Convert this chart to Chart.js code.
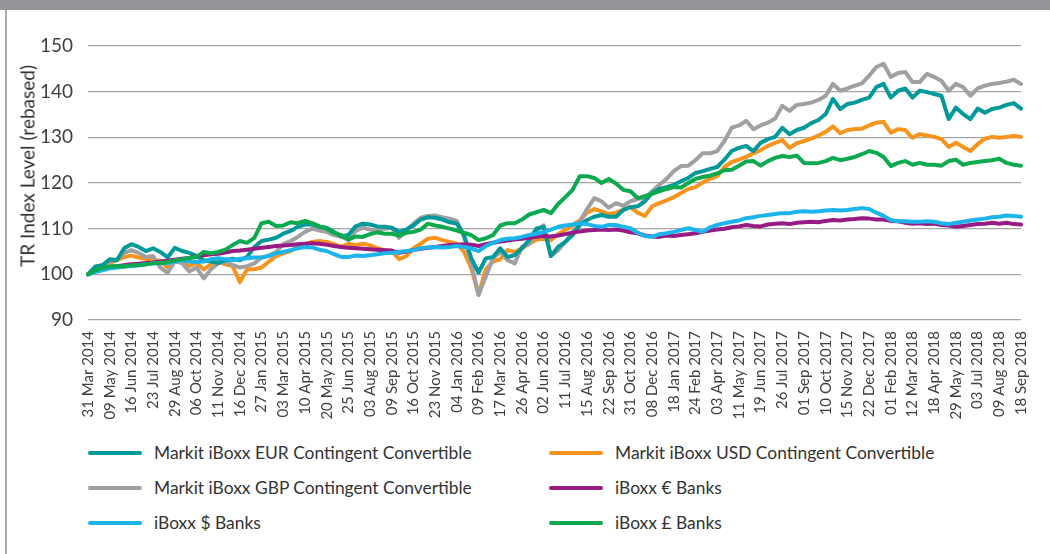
<!DOCTYPE html>
<html>
<head>
<meta charset="utf-8">
<script src="https://cdn.jsdelivr.net/npm/chart.js@4.4.1/dist/chart.umd.min.js"></script>
<style>
  html, body { margin: 0; padding: 0; background: #fff; }
  body { width: 1050px; height: 554px; position: relative; overflow: hidden; font-family: Lato, sans-serif; color: #333; }
  #bar { position: absolute; left: 0; top: 0; width: 1050px; height: 10px; background: #939598; }
  #rule { position: absolute; left: 5px; top: 10px; width: 2px; height: 544px; background: #a7a9ac; }
  #wrap { position: absolute; left: 0; top: 0; width: 1050px; height: 430px; }
  #ytitle { position: absolute; left: 27px; top: 166px; transform: translate(-50%, -50%) rotate(-90deg);
            white-space: nowrap; font-size: 19px; color: #333; }
  #legend { position: absolute; left: 88px; top: 435px; display: grid; grid-template-columns: 461px 420px; }
  .item { display: flex; align-items: center; height: 35px; font-size: 17.4px; color: #333; white-space: nowrap; }
  .swatch { width: 54px; height: 4px; border-radius: 2px; margin-right: 12px; flex: none; }
</style>
</head>
<body>
<div id="bar"></div>
<div id="rule"></div>
<div id="wrap"><canvas id="myLineChart" width="1050" height="430"></canvas></div>
<div id="ytitle">TR Index Level (rebased)</div>
<div id="legend"></div>
<script>
// x axis tick labels (one every 3 points)
const tickLabels = ['31 Mar 2014','09 May 2014','16 Jun 2014','23 Jul 2014','29 Aug 2014','06 Oct 2014','11 Nov 2014','16 Dec 2014',
  '27 Jan 2015','03 Mar 2015','10 Apr 2015','20 May 2015','25 Jun 2015','03 Aug 2015','09 Sep 2015','16 Oct 2015','23 Nov 2015',
  '04 Jan 2016','09 Feb 2016','17 Mar 2016','26 Apr 2016','02 Jun 2016','11 Jul 2016','15 Aug 2016','22 Sep 2016','31 Oct 2016','08 Dec 2016',
  '18 Jan 2017','24 Feb 2017','03 Apr 2017','11 May 2017','19 Jun 2017','26 Jul 2017','01 Sep 2017','10 Oct 2017','15 Nov 2017','22 Dec 2017',
  '01 Feb 2018','12 Mar 2018','18 Apr 2018','29 May 2018','03 Jul 2018','09 Aug 2018','18 Sep 2018'];
const pointsPerTick = 3;

const eurCoco = [100.0,101.7,102.0,103.3,103.1,105.7,106.6,106.0,105.1,105.7,
  104.9,103.7,105.8,105.1,104.7,104.0,103.1,102.8,102.5,103.1,
  103.4,103.1,103.8,106.0,107.3,107.6,108.0,108.9,109.5,110.4,
  110.9,110.9,110.4,110.2,109.3,108.3,108.6,110.5,111.1,110.9,
  110.5,110.4,110.2,109.3,109.8,110.7,112.0,112.5,112.4,112.0,
  111.4,111.1,108.6,103.5,100.4,103.5,103.8,105.7,103.8,104.2,
  105.7,107.5,110.0,110.4,104.0,106.0,107.1,108.6,110.8,111.9,
  112.6,113.0,112.6,112.6,114.1,114.7,114.9,116.0,117.8,118.7,
  119.1,119.6,120.4,121.1,122.2,122.6,123.1,123.5,125.1,127.0,
  127.7,128.1,127.0,128.8,129.6,130.1,132.1,130.7,131.6,132.1,
  133.1,133.8,135.1,138.4,136.2,137.3,137.6,138.2,138.7,141.0,
  141.7,138.7,140.2,140.7,138.7,140.2,139.9,139.5,139.1,134.0,
  136.5,135.1,134.0,136.3,135.4,136.2,136.5,137.1,137.5,136.3];

const usdCoco = [100.0,101.5,102.0,102.5,103.1,103.8,104.1,103.7,103.4,103.1,
  103.0,101.5,103.1,103.0,101.8,102.5,101.1,102.2,102.8,102.2,
  101.8,98.3,101.1,101.1,101.5,102.8,104.0,104.6,105.1,106.0,
  106.6,107.1,107.3,107.1,106.6,106.0,106.7,106.4,106.7,106.4,
  105.7,105.3,105.1,103.3,104.0,105.7,106.7,107.8,108.0,107.5,
  107.1,106.7,104.9,101.3,95.5,101.1,102.8,103.3,105.3,104.9,
  105.7,106.7,107.6,107.8,107.5,108.8,109.7,110.8,111.8,113.5,
  114.3,113.8,113.2,113.5,114.1,114.7,113.5,112.8,114.9,115.6,
  116.2,116.9,117.8,118.7,119.1,120.1,120.9,121.5,123.5,124.6,
  125.1,125.7,126.5,127.2,128.1,128.8,129.4,127.7,128.7,129.2,
  129.7,130.4,131.2,132.4,130.9,131.6,131.8,131.9,132.6,133.2,
  133.4,131.0,131.8,131.6,129.9,130.7,130.4,130.1,129.6,127.9,
  128.8,127.9,127.0,128.5,129.7,130.1,129.9,130.1,130.3,130.1];

const gbpCoco = [100.0,101.4,102.0,102.8,103.3,104.7,105.3,104.7,103.8,104.0,
  101.5,100.3,102.8,102.5,100.6,101.5,99.1,101.1,102.4,102.8,
  102.0,101.5,101.8,102.4,103.7,104.1,104.9,106.6,107.3,108.2,
  109.3,110.0,109.6,109.3,108.6,108.2,107.6,109.5,110.2,109.8,
  109.6,110.0,110.2,108.0,109.6,111.1,112.4,112.8,112.9,112.5,
  112.2,111.7,108.2,102.4,95.5,99.5,103.5,104.9,103.1,102.4,
  106.0,106.7,109.6,110.7,104.0,105.3,107.1,109.3,111.5,114.3,
  116.7,116.0,114.6,115.6,115.0,116.0,116.5,116.7,118.2,119.6,
  120.9,122.6,123.7,123.8,125.0,126.5,126.5,127.0,129.2,132.1,
  132.6,133.6,131.8,132.6,133.2,134.1,136.9,135.8,137.1,137.3,
  137.6,138.2,139.1,141.7,140.2,140.7,141.3,141.8,143.5,145.4,
  146.1,143.2,144.1,144.3,142.1,142.1,143.9,143.2,142.4,140.2,
  141.7,141.0,139.1,140.7,141.3,141.7,141.9,142.2,142.6,141.7];

const eurBanks = [100.0,100.8,101.3,101.6,101.8,102.0,102.2,102.3,102.5,102.6,
  102.8,103.0,103.2,103.4,103.6,103.9,104.2,104.4,104.5,104.8,
  105.1,105.2,105.4,105.6,105.8,106.0,106.2,106.3,106.4,106.6,
  106.7,106.8,106.7,106.5,106.2,106.0,105.8,105.7,105.6,105.5,
  105.4,105.3,105.2,104.7,105.0,105.3,105.6,105.8,106.0,106.2,
  106.4,106.5,106.6,106.5,106.2,106.6,106.9,107.2,107.4,107.6,
  107.8,108.0,108.2,108.4,108.3,108.5,108.8,109.1,109.4,109.6,
  109.7,109.8,109.7,109.8,109.6,109.2,109.0,108.5,108.3,108.2,
  108.5,108.4,108.6,108.8,109.0,109.3,109.6,109.8,110.0,110.3,
  110.5,110.8,110.6,110.5,110.9,111.1,111.2,111.0,111.3,111.4,
  111.5,111.4,111.7,111.9,111.8,112.0,112.1,112.3,112.2,112.0,
  112.0,111.7,111.6,111.3,111.1,111.2,111.0,111.1,110.8,110.7,
  110.4,110.6,110.8,111.0,111.1,111.3,111.1,111.3,111.0,110.9];

const usdBanks = [100.0,100.5,100.9,101.3,101.5,101.7,101.8,102.0,102.2,102.4,
  102.4,102.5,102.8,103.1,102.8,102.7,102.8,103.3,103.5,103.3,
  103.1,103.4,103.5,103.7,103.7,104.0,104.6,104.9,105.3,105.7,
  106.0,105.9,105.4,105.1,104.4,103.8,103.8,104.1,104.0,104.2,
  104.4,104.6,104.7,104.9,105.1,105.3,105.7,105.9,106.0,105.9,
  106.0,106.2,106.0,105.7,105.1,106.2,106.9,107.5,107.8,107.9,
  108.2,108.6,108.9,109.3,109.8,110.4,110.7,110.9,111.2,111.0,
  110.6,110.4,110.8,110.8,110.4,110.1,109.1,108.4,108.2,108.8,
  109.0,109.3,109.7,110.1,109.7,109.3,110.3,110.8,111.2,111.5,
  111.8,112.3,112.5,112.8,113.0,113.2,113.4,113.4,113.7,113.8,
  113.7,113.8,114.0,114.1,114.0,114.1,114.3,114.5,114.3,113.5,
  112.8,111.9,111.6,111.6,111.5,111.5,111.6,111.5,111.2,111.0,
  111.3,111.5,111.8,112.0,112.2,112.5,112.6,112.9,112.8,112.6];

const gbpBanks = [100.0,100.9,101.4,101.7,101.8,101.7,102.0,102.0,102.2,102.4,
  102.5,102.7,103.0,103.3,103.6,103.8,104.9,104.6,104.9,105.4,
  106.4,107.3,106.9,108.0,111.2,111.5,110.6,110.7,111.4,111.2,
  111.7,111.2,110.5,110.0,109.1,108.6,107.6,108.3,108.2,108.8,
  109.2,108.9,108.9,108.5,109.1,109.3,109.8,111.1,110.7,110.4,
  110.0,109.6,109.1,108.6,107.5,107.9,108.6,110.7,111.2,111.2,
  112.0,113.1,113.6,114.1,113.4,115.4,116.9,118.5,121.5,121.5,
  121.1,120.0,120.9,119.9,118.5,118.2,116.7,117.1,117.6,118.2,
  118.7,119.1,119.0,120.0,120.9,121.3,121.6,122.1,122.8,122.9,
  123.8,124.7,124.8,123.8,124.8,125.5,125.9,125.7,126.0,124.4,
  124.3,124.4,124.8,125.5,125.0,125.3,125.7,126.3,127.0,126.6,
  125.7,123.7,124.4,124.8,124.0,124.4,124.0,124.0,123.8,124.8,
  125.1,124.0,124.4,124.6,124.8,125.0,125.3,124.4,124.0,123.8];

const seriesNames = ['Markit iBoxx EUR Contingent Convertible', 'Markit iBoxx USD Contingent Convertible',
  'Markit iBoxx GBP Contingent Convertible', 'iBoxx € Banks', 'iBoxx $ Banks', 'iBoxx £ Banks'];
const seriesColors = ['#00999a', '#f7941d', '#a0a0a2', '#981b84', '#1cb4ec', '#0caa4e'];
const drawOrder = [3, 5, 4, 2, 1, 0]; // lower = drawn on top

// categories: every 3rd point carries a date label
const categories = eurCoco.map((v, i) => i % pointsPerTick === 0 ? tickLabels[i / pointsPerTick] : '');

const allSeries = [eurCoco, usdCoco, gbpCoco, eurBanks, usdBanks, gbpBanks];

const data = {
  labels: categories,
  datasets: allSeries.map((s, i) => ({
    label: seriesNames[i],
    data: s,
    borderColor: seriesColors[i],
    backgroundColor: seriesColors[i],
    borderWidth: 4,
    pointRadius: 0,
    tension: 0,
    borderJoinStyle: 'round',
    borderCapStyle: 'round',
    order: drawOrder[i]
  }))
};

const config = {
  type: 'line',
  data: data,
  options: {
    responsive: false,
    animation: false,
    devicePixelRatio: 1,
    layout: { padding: { top: 46, right: 18, bottom: 0, left: 0 } },
    plugins: { legend: { display: false }, tooltip: { enabled: false } },
    scales: {
      x: {
        grid: { display: false, drawTicks: false },
        border: { display: false },
        afterFit: (scale) => { scale.height = 110; },
        ticks: {
          autoSkip: false, minRotation: 90, maxRotation: 90, padding: 11,
          color: '#404040', font: { family: 'Lato', size: 15 }
        }
      },
      y: {
        min: 90, max: 150,
        grid: { color: '#a6a6a6', lineWidth: 1.3, drawTicks: false },
        border: { display: false },
        afterFit: (scale) => { scale.width = 88; },
        ticks: { stepSize: 10, padding: 15, color: '#404040', font: { family: 'Lato', size: 19 } }
      }
    }
  }
};

const myChart = new Chart(document.getElementById('myLineChart'), config);

// two-column legend built from the chart datasets
const legend = document.getElementById('legend');
myChart.data.datasets.forEach(ds => {
  const item = document.createElement('div');
  item.className = 'item';
  item.innerHTML = '<span class="swatch" style="background:' + ds.borderColor + '"></span><span></span>';
  item.lastChild.textContent = ds.label;
  legend.appendChild(item);
});
</script>
</body>
</html>
